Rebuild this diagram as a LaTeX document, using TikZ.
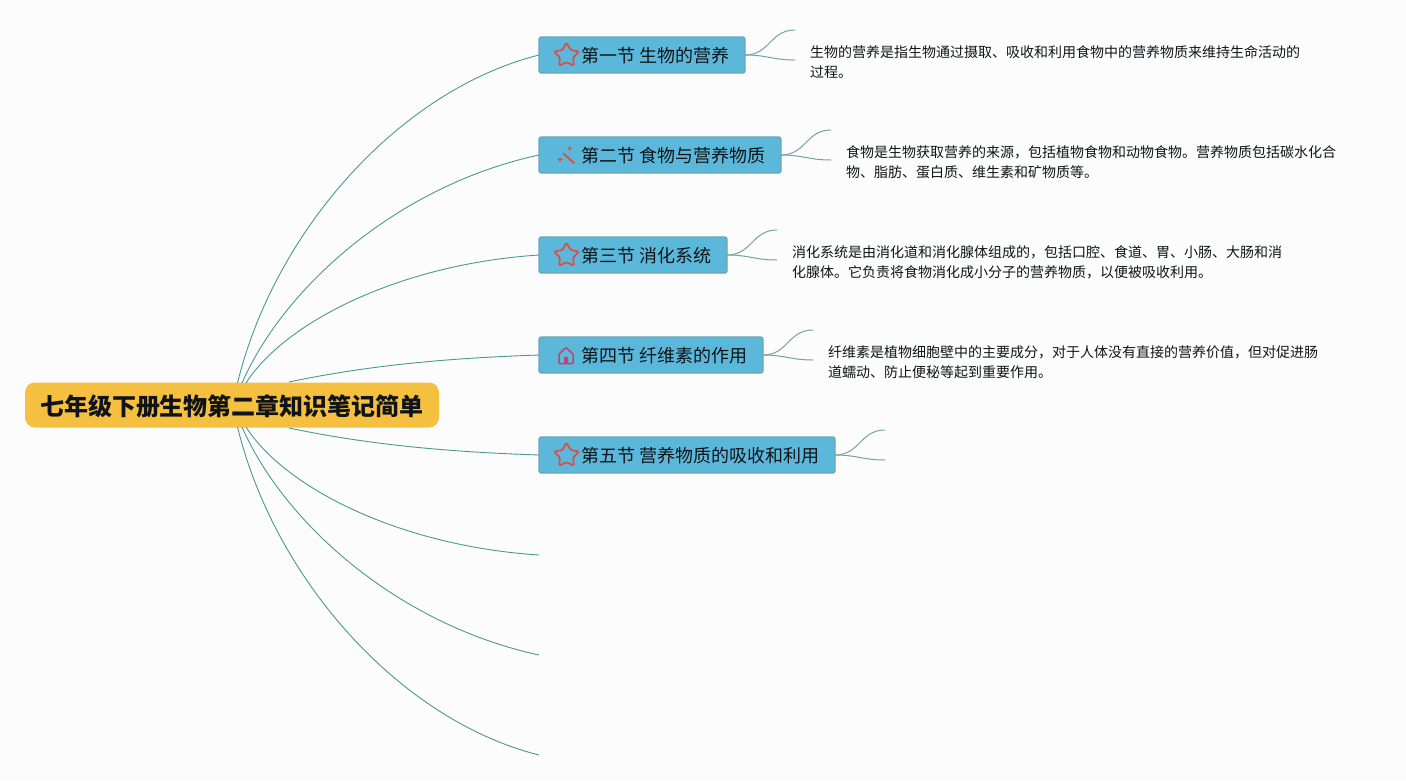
\documentclass[tikz,border=0pt]{standalone}
\usepackage{fontspec}
\setmainfont{Noto Sans CJK SC}
\usetikzlibrary{calc}
\definecolor{bgc}{HTML}{FCFCFC}
\definecolor{secfill}{HTML}{5BB8DB}
\definecolor{secedge}{HTML}{6BA6B4}
\definecolor{rootfill}{HTML}{F5BF40}
\definecolor{linkc}{HTML}{4C9A88}
\definecolor{twigc}{HTML}{6FA79B}
\definecolor{iconred}{HTML}{D9504A}
\definecolor{iconpink}{HTML}{C83E72}
\definecolor{inktext}{HTML}{101418}
\tikzset{
  x=1pt,y=-1pt,
  secbox/.style={draw=secedge,line width=1.1pt,fill=secfill,rounded corners=2pt,inner sep=0pt,outer sep=0pt,minimum height=36pt,anchor=west,font=\fontsize{18}{20}\selectfont,text=inktext},
  rootbox/.style={fill=rootfill,rounded corners=10pt,inner sep=0pt,minimum width=414pt,minimum height=45pt,font=\fontsize{24}{28}\selectfont\bfseries,text=inktext},
  notetext/.style={anchor=north west,inner sep=0pt,align=left,font=\fontsize{14}{20}\selectfont,text=inktext},
  mainlink/.style={draw=linkc,line width=0.9pt},
  twig/.style={draw=twigc,line width=1pt},
  staricon/.style={draw=iconred,line width=1.8pt,line join=round,rounded corners=1.2pt},
}
\newcommand{\sectext}[2]{\makebox[#1pt][l]{\hspace*{42pt}\raisebox{-7.8pt}[0pt][0pt]{#2}}}
\newcommand{\stardraw}[2]{\draw[staricon] ($(#1,#2)+(-90:13)$) -- ($(#1,#2)+(-54:6.8)$) -- ($(#1,#2)+(-18:13)$) -- ($(#1,#2)+(18:7)$) -- ($(#1,#2)+(54:12.5)$) -- ($(#1,#2)+(90:6.8)$) -- ($(#1,#2)+(126:12.5)$) -- ($(#1,#2)+(162:7)$) -- ($(#1,#2)+(198:13)$) -- ($(#1,#2)+(234:6.8)$) -- cycle;}
\newcommand{\sparkle}[3]{\fill[iconred] (#1,#2-#3) -- (#1+#3*0.3,#2-#3*0.3) -- (#1+#3,#2) -- (#1+#3*0.3,#2+#3*0.3) -- (#1,#2+#3) -- (#1-#3*0.3,#2+#3*0.3) -- (#1-#3,#2) -- (#1-#3*0.3,#2-#3*0.3) -- cycle;}
\begin{document}
\begin{tikzpicture}
\useasboundingbox[fill=bgc] (0,0) rectangle (1406,780);
\coordinate (rt1) at (237.5,383);
\coordinate (rt2) at (242,383);
\coordinate (rt3) at (246,383);
\coordinate (rt4) at (289,382);
\coordinate (rb5) at (289,428);
\coordinate (rb6) at (246,427);
\coordinate (rb7) at (242,427);
\coordinate (rb8) at (237.5,427);
\coordinate (e6) at (539,555);
\coordinate (e7) at (539,655);
\coordinate (e8) at (539,755);
% root
\node[rootbox] (root) at (232,405) {\raisebox{-10.9pt}[0pt][0pt]{七年级下册生物第二章知识笔记简单}};
% sections
\node[secbox,minimum width=206pt] (s1) at (539,55) {\sectext{206}{第一节 生物的营养}};
\node[secbox,minimum width=242pt] (s2) at (539,155) {\sectext{242}{第二节 食物与营养物质}};
\node[secbox,minimum width=188pt] (s3) at (539,255) {\sectext{188}{第三节 消化系统}};
\node[secbox,minimum width=224pt] (s4) at (539,355) {\sectext{224}{第四节 纤维素的作用}};
\node[secbox,minimum width=296pt] (s5) at (539,455) {\sectext{296}{第五节 营养物质的吸收和利用}};
% links
\draw[mainlink] (rt1) .. controls (275,230) and (400,90) .. (s1.west);
\draw[mainlink] (rt2) .. controls (285,285) and (400,185) .. (s2.west);
\draw[mainlink] (rt3) .. controls (285,322) and (400,264) .. (s3.west);
\draw[mainlink] (rt4) .. controls (370,365) and (450,358) .. (s4.west);
\draw[mainlink] (rb5) .. controls (370,445) and (450,452) .. (s5.west);
\draw[mainlink] (rb6) .. controls (285,488) and (400,546) .. (e6);
\draw[mainlink] (rb7) .. controls (285,525) and (400,625) .. (e7);
\draw[mainlink] (rb8) .. controls (275,580) and (400,720) .. (e8);
% twigs
\foreach \s/\x/\y in {s1/795/55,s2/831/155,s3/777/255,s4/813/355,s5/885/455}{
  \coordinate (\s up) at (\x,\y-25);
  \coordinate (\s dn) at (\x,\y+5);
  \draw[twig] (\s.east) .. controls ++(25,0) and ($(\s up)+(-25,0)$) .. (\s up);
  \draw[twig] (\s.east) .. controls ++(22,0) and ($(\s dn)+(-22,0)$) .. (\s dn);
}
% notes
\node[notetext] (n1) at (810,45) {生物的营养是指生物通过摄取、吸收和利用食物中的营养物质来维持生命活动的\\过程。};
\node[notetext] (n2) at (846,145) {食物是生物获取营养的来源，包括植物食物和动物食物。营养物质包括碳水化合\\物、脂肪、蛋白质、维生素和矿物质等。};
\node[notetext] (n3) at (792,245) {消化系统是由消化道和消化腺体组成的，包括口腔、食道、胃、小肠、大肠和消\\化腺体。它负责将食物消化成小分子的营养物质，以便被吸收利用。};
\node[notetext] (n4) at (828,345) {纤维素是植物细胞壁中的主要成分，对于人体没有直接的营养价值，但对促进肠\\道蠕动、防止便秘等起到重要作用。};
% icons
\stardraw{566.5}{55.5}
\stardraw{566.5}{255.5}
\stardraw{566.5}{455.5}
% wand
\draw[iconred,line width=2pt,line cap=round] (563.5,153.5) -- (574,163);
\sparkle{560}{159.5}{3}
\sparkle{569.5}{148.5}{2.6}
% house
\draw[iconpink,line width=1.5pt,line join=round,line cap=round,rounded corners=0.8pt] (559,354) -- (566,347.5) -- (573,354) -- (573,363.5) -- (559,363.5) -- cycle;
\fill[iconpink] (564,363.5) -- (564,358.5) arc[start angle=180,end angle=360,radius=2] -- (568,363.5) -- cycle;
\end{tikzpicture}
\end{document}
